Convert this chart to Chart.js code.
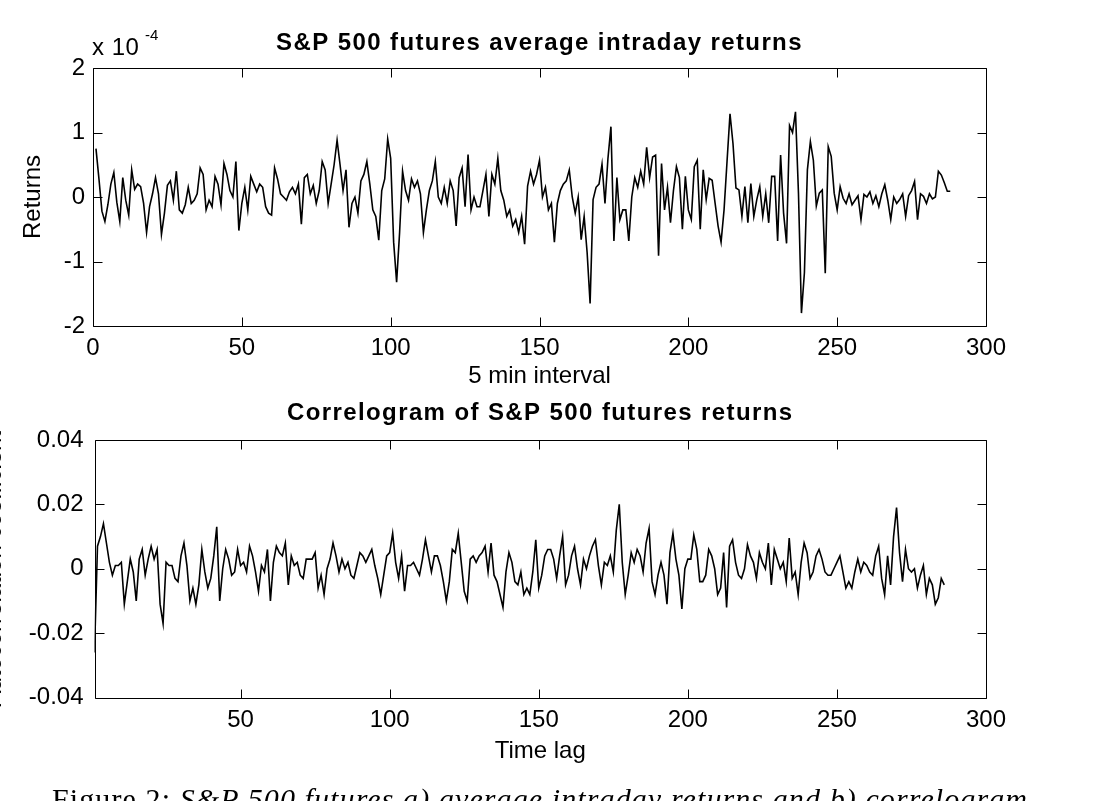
<!DOCTYPE html>
<html lang="en">
<head>
    <meta charset="UTF-8">
    <meta name="viewport" content="width=device-width, initial-scale=1.0">
    <title>S&amp;P 500 futures returns and correlogram</title>
    <script src="https://cdn.jsdelivr.net/npm/chart.js"></script>
    <style>
        html, body { margin: 0; padding: 0; background: #fff; overflow: hidden; }
        body { width: 1093px; height: 801px; position: relative; }
        canvas { position: absolute; left: 0; }
        #returnsChart { top: 0; }
        #correloChart { top: 400px; }
        .caption {
            position: absolute; left: 52px; top: 784px;
            font-family: "Liberation Serif", "Times New Roman", serif;
            font-size: 30px; line-height: 1; letter-spacing: 1.1px;
            white-space: nowrap; color: #000;
        }
        .caption em { font-style: italic; }
    </style>
</head>
<body>
    <canvas id="returnsChart" width="1093" height="400"></canvas>
    <canvas id="correloChart" width="1093" height="401"></canvas>
    <div class="caption">Figure 2: <em>S&amp;P 500 futures a) average intraday returns and b) correlogram</em></div>

    <script>
        // average 5-min returns, in units of 1e-4 (axis shows "x 10^-4")
        const returnIntervals = Array.from({ length: 288 }, (_, i) => i + 1);
        const avgReturns = [
            0.75, 0.28, -0.22, -0.38, -0.12, 0.20, 0.38, -0.08, -0.38, 0.30,
            -0.05, -0.28, 0.42, 0.12, 0.20, 0.16, -0.10, -0.55, -0.15, 0.05,
            0.30, 0.05, -0.58, -0.25, 0.18, 0.25, -0.05, 0.40, -0.20, -0.25,
            -0.12, 0.15, -0.10, -0.05, 0.05, 0.45, 0.35, -0.20, -0.05, -0.15,
            0.32, 0.20, -0.12, 0.52, 0.35, 0.10, 0.00, 0.55, -0.52, -0.10,
            0.15, -0.20, 0.32, 0.20, 0.08, 0.20, 0.15, -0.15, -0.25, -0.28,
            0.45, 0.28, 0.05, 0.00, -0.05, 0.08, 0.15, 0.05, 0.20, -0.42,
            0.30, 0.35, 0.05, 0.18, -0.10, 0.10, 0.55, 0.42, -0.10, 0.20,
            0.50, 0.88, 0.50, 0.10, 0.42, -0.47, -0.10, 0.00, -0.25, 0.25,
            0.35, 0.55, 0.20, -0.20, -0.30, -0.67, 0.10, 0.28, 0.90, 0.60,
            -0.70, -1.32, -0.55, 0.40, 0.10, -0.05, 0.28, 0.15, 0.25, 0.05,
            -0.55, -0.20, 0.10, 0.25, 0.55, 0.00, -0.10, 0.15, -0.10, 0.25,
            0.10, -0.45, 0.30, 0.45, -0.15, 0.66, -0.20, 0.00, -0.15, -0.15,
            0.10, 0.35, -0.30, 0.35, 0.20, 0.60, 0.10, -0.05, -0.30, -0.20,
            -0.45, -0.35, -0.55, -0.30, -0.73, 0.17, 0.40, 0.20, 0.35, 0.57,
            0.00, 0.15, -0.20, -0.10, -0.70, -0.10, 0.10, 0.20, 0.25, 0.42,
            0.00, -0.25, 0.00, -0.66, -0.30, -0.86, -1.65, -0.04, 0.15, 0.20,
            0.51, -0.10, 0.60, 1.09, -0.68, 0.30, -0.35, -0.20, -0.20, -0.68,
            0.00, 0.30, 0.15, 0.40, 0.20, 0.77, 0.30, 0.62, 0.65, -0.91,
            0.52, -0.20, 0.15, -0.40, 0.10, 0.47, 0.30, -0.50, 0.32, -0.20,
            -0.35, 0.47, 0.57, -0.50, 0.42, -0.04, 0.29, 0.26, -0.10, -0.45,
            -0.70, -0.20, 0.55, 1.29, 0.83, 0.14, 0.11, -0.30, 0.16, -0.40,
            0.21, -0.30, -0.04, 0.16, -0.30, 0.05, -0.40, 0.32, 0.32, -0.68,
            0.65, -0.25, -0.72, 1.11, 1.00, 1.32, 0.06, -1.80, -1.17, 0.42,
            0.86, 0.57, -0.14, 0.06, 0.11, -1.18, 0.78, 0.63, 0.06, -0.20,
            0.16, -0.02, -0.10, 0.05, -0.12, -0.05, 0.02, -0.35, 0.04, 0.00,
            0.08, -0.10, 0.02, -0.15, 0.05, 0.19, -0.05, -0.35, 0.00, -0.10,
            -0.04, 0.05, -0.30, 0.02, 0.10, 0.24, -0.35, 0.05, 0.01, -0.10,
            0.05, -0.03, 0.00, 0.40, 0.34, 0.22, 0.09, 0.09
        ];

        // autocorrelation coefficient by lag
        const timeLags = Array.from({ length: 286 }, (_, i) => i + 1);
        const autocorr = [
            -0.026, 0.007, 0.010, 0.014, 0.008, 0.002, -0.002, 0.001, 0.001, 0.002,
            -0.011, -0.004, 0.003, -0.001, -0.010, 0.003, 0.006, -0.002, 0.003, 0.007,
            0.003, 0.006, -0.011, -0.017, 0.002, 0.001, 0.001, -0.003, -0.004, 0.004,
            0.008, 0.001, -0.010, -0.006, -0.011, -0.005, 0.006, -0.001, -0.006, -0.003,
            0.004, 0.013, -0.010, 0.000, 0.006, 0.003, -0.002, -0.001, 0.006, 0.001,
            0.002, -0.001, 0.007, 0.004, -0.001, -0.007, 0.001, -0.001, 0.006, -0.010,
            0.002, 0.007, 0.005, 0.004, 0.008, -0.005, 0.004, 0.001, 0.002, -0.002,
            -0.003, 0.003, 0.003, 0.003, 0.005, -0.006, -0.002, -0.008, 0.000, 0.003,
            0.008, 0.004, -0.001, 0.003, 0.000, 0.002, -0.002, -0.003, 0.001, 0.005,
            0.004, 0.002, 0.004, 0.006, 0.001, -0.003, -0.008, -0.002, 0.004, 0.005,
            0.011, 0.002, -0.003, 0.004, -0.007, 0.001, 0.001, 0.002, 0.000, -0.002,
            0.003, 0.009, 0.004, -0.001, 0.004, 0.004, 0.001, -0.004, -0.010, -0.004,
            0.006, 0.005, 0.011, 0.002, -0.007, -0.010, 0.003, 0.004, 0.002, 0.004,
            0.005, 0.007, -0.001, 0.008, -0.002, -0.004, -0.008, -0.012, -0.001, 0.005,
            0.002, -0.004, -0.005, -0.001, -0.008, -0.006, -0.008, -0.001, 0.009, -0.006,
            -0.002, 0.004, 0.006, 0.006, 0.003, -0.003, 0.004, 0.010, -0.005, -0.002,
            0.004, 0.007, 0.000, -0.005, 0.003, 0.000, 0.004, 0.007, 0.009, 0.001,
            -0.005, 0.002, 0.001, 0.004, -0.001, 0.012, 0.020, 0.002, -0.008, -0.002,
            0.005, 0.002, 0.006, 0.004, -0.001, 0.008, 0.0125, -0.004, -0.008, -0.002,
            0.002, -0.002, -0.011, 0.005, 0.011, 0.003, -0.002, -0.0125, 0.000, 0.003,
            0.003, 0.0105, 0.006, -0.004, -0.004, -0.002, 0.006, 0.004, 0.000, -0.008,
            -0.006, 0.005, -0.012, 0.007, 0.009, 0.002, -0.002, -0.003, 0.000, 0.0075,
            0.004, 0.002, -0.003, 0.005, 0.002, 0.000, 0.008, -0.005, 0.006, 0.003,
            0.000, 0.002, -0.004, 0.0095, -0.003, -0.001, -0.008, 0.002, 0.008, 0.005,
            -0.003, -0.001, 0.004, 0.006, 0.003, -0.001, -0.002, -0.002, 0.000, 0.002,
            0.004, -0.001, -0.006, -0.004, -0.006, -0.001, 0.003, -0.001, 0.002, 0.001,
            -0.001, -0.002, 0.004, 0.007, -0.003, -0.008, 0.004, -0.005, 0.010, 0.019,
            0.005, -0.004, 0.006, 0.000, -0.001, 0.000, -0.006, -0.002, 0.001, -0.008,
            -0.003, -0.005, -0.011, -0.009, -0.003, -0.005
        ];

        // tick labels
        const returnTicksX = [0, 50, 100, 150, 200, 250, 300];
        const returnTicksY = [-2, -1, 0, 1, 2];
        const lagTicksX = [50, 100, 150, 200, 250, 300];
        const corrTicksY = [-0.04, -0.02, 0, 0.02, 0.04];

        const FONT = '"Liberation Sans", Arial, sans-serif';
        const TICK_LEN = 9;

        // MATLAB-like frame: box, inward ticks on all four sides, bold title
        const matlabBox = {
            id: 'matlabBox',
            afterDraw(chart, args, opts) {
                const { ctx, chartArea: a, scales: { x, y } } = chart;
                const L = Math.round(a.left) + 0.5, R = Math.round(a.right) + 0.5;
                const T = Math.round(a.top) + 0.5, B = Math.round(a.bottom) + 0.5;
                ctx.save();
                ctx.strokeStyle = '#000';
                ctx.lineWidth = 1;
                ctx.beginPath();
                x.ticks.forEach(t => {
                    const px = Math.min(R, Math.round(x.getPixelForValue(t.value)) + 0.5);
                    ctx.moveTo(px, B); ctx.lineTo(px, B - TICK_LEN);
                    ctx.moveTo(px, T); ctx.lineTo(px, T + TICK_LEN);
                });
                y.ticks.forEach(t => {
                    const py = Math.round(y.getPixelForValue(t.value)) + 0.5;
                    ctx.moveTo(L, py); ctx.lineTo(L + TICK_LEN, py);
                    ctx.moveTo(R, py); ctx.lineTo(R - TICK_LEN, py);
                });
                ctx.rect(L, T, R - L, B - T);
                ctx.stroke();

                ctx.fillStyle = '#000';
                ctx.font = 'bold 24px ' + FONT;
                ctx.letterSpacing = '1.4px';
                ctx.textAlign = 'center';
                ctx.textBaseline = 'alphabetic';
                ctx.fillText(opts.text, (a.left + a.right) / 2, a.top - opts.gap);

                if (opts.exponent) {
                    ctx.letterSpacing = '0.5px';
                    ctx.textAlign = 'left';
                    ctx.font = '24px ' + FONT;
                    ctx.fillText('x 10', a.left - 1, a.top - 13);
                    ctx.letterSpacing = '0px';
                    ctx.font = '15px ' + FONT;
                    ctx.fillText(opts.exponent, a.left + 52, a.top - 28.5);
                }
                ctx.restore();
            }
        };

        function axisFont(size) {
            return { family: FONT, size: size };
        }

        // 图 a: average intraday returns
        new Chart(document.getElementById('returnsChart'), {
            type: 'line',
            data: {
                datasets: [{
                    data: returnIntervals.map((t, i) => ({ x: t, y: avgReturns[i] })),
                    borderColor: '#000',
                    borderWidth: 1.6,
                    pointRadius: 0,
                    tension: 0,
                    fill: false
                }]
            },
            options: {
                responsive: false,
                animation: false,
                layout: { padding: { left: 0, right: 107, top: 68, bottom: 0 } },
                plugins: {
                    legend: { display: false },
                    tooltip: { enabled: false },
                    matlabBox: { text: 'S&P 500 futures average intraday returns', gap: 18, exponent: '-4' }
                },
                scales: {
                    x: {
                        type: 'linear', min: 0, max: 300,
                        afterBuildTicks: s => { s.ticks = returnTicksX.map(v => ({ value: v })); },
                        afterFit: s => { s.height = 74; },
                        grid: { display: false, drawTicks: false },
                        border: { display: false },
                        ticks: { color: '#000', font: axisFont(24), padding: 8, maxRotation: 0, autoSkip: false },
                        title: { display: true, text: '5 min interval', color: '#000', font: axisFont(24), padding: { top: 0, bottom: 9 } }
                    },
                    y: {
                        min: -2, max: 2,
                        afterBuildTicks: s => { s.ticks = returnTicksY.map(v => ({ value: v })); },
                        afterFit: s => { s.width = 93; },
                        grid: { display: false, drawTicks: false },
                        border: { display: false },
                        ticks: { color: '#000', font: axisFont(24), padding: 8 },
                        title: { display: true, text: 'Returns', color: '#000', font: axisFont(24), padding: { top: 19, bottom: 0 } }
                    }
                }
            },
            plugins: [matlabBox]
        });

        // 图 b: correlogram
        new Chart(document.getElementById('correloChart'), {
            type: 'line',
            data: {
                datasets: [{
                    data: timeLags.map((t, i) => ({ x: t, y: autocorr[i] })),
                    borderColor: '#000',
                    borderWidth: 1.6,
                    pointRadius: 0,
                    tension: 0,
                    fill: false
                }]
            },
            options: {
                responsive: false,
                animation: false,
                layout: { padding: { left: 0, right: 107, top: 40, bottom: 0 } },
                plugins: {
                    legend: { display: false },
                    tooltip: { enabled: false },
                    matlabBox: { text: 'Correlogram of S&P 500 futures returns', gap: 20 }
                },
                scales: {
                    x: {
                        type: 'linear', min: 1, max: 300,
                        afterBuildTicks: s => { s.ticks = lagTicksX.map(v => ({ value: v })); },
                        afterFit: s => { s.height = 103.5; },
                        grid: { display: false, drawTicks: false },
                        border: { display: false },
                        ticks: { color: '#000', font: axisFont(24), padding: 8, maxRotation: 0, autoSkip: false },
                        title: { display: true, text: 'Time lag', color: '#000', font: axisFont(24), padding: { top: 0, bottom: 35 } }
                    },
                    y: {
                        min: -0.04, max: 0.04,
                        afterBuildTicks: s => { s.ticks = corrTicksY.map(v => ({ value: v })); },
                        afterFit: s => { s.width = 94.5; },
                        grid: { display: false, drawTicks: false },
                        border: { display: false },
                        ticks: { color: '#000', font: axisFont(24), padding: 11 },
                        title: { display: true, text: 'Autocorrelation coefficient', color: '#000', font: axisFont(24), padding: { top: -20.5, bottom: 0 } }
                    }
                }
            },
            plugins: [matlabBox]
        });
    </script>
</body>
</html>
